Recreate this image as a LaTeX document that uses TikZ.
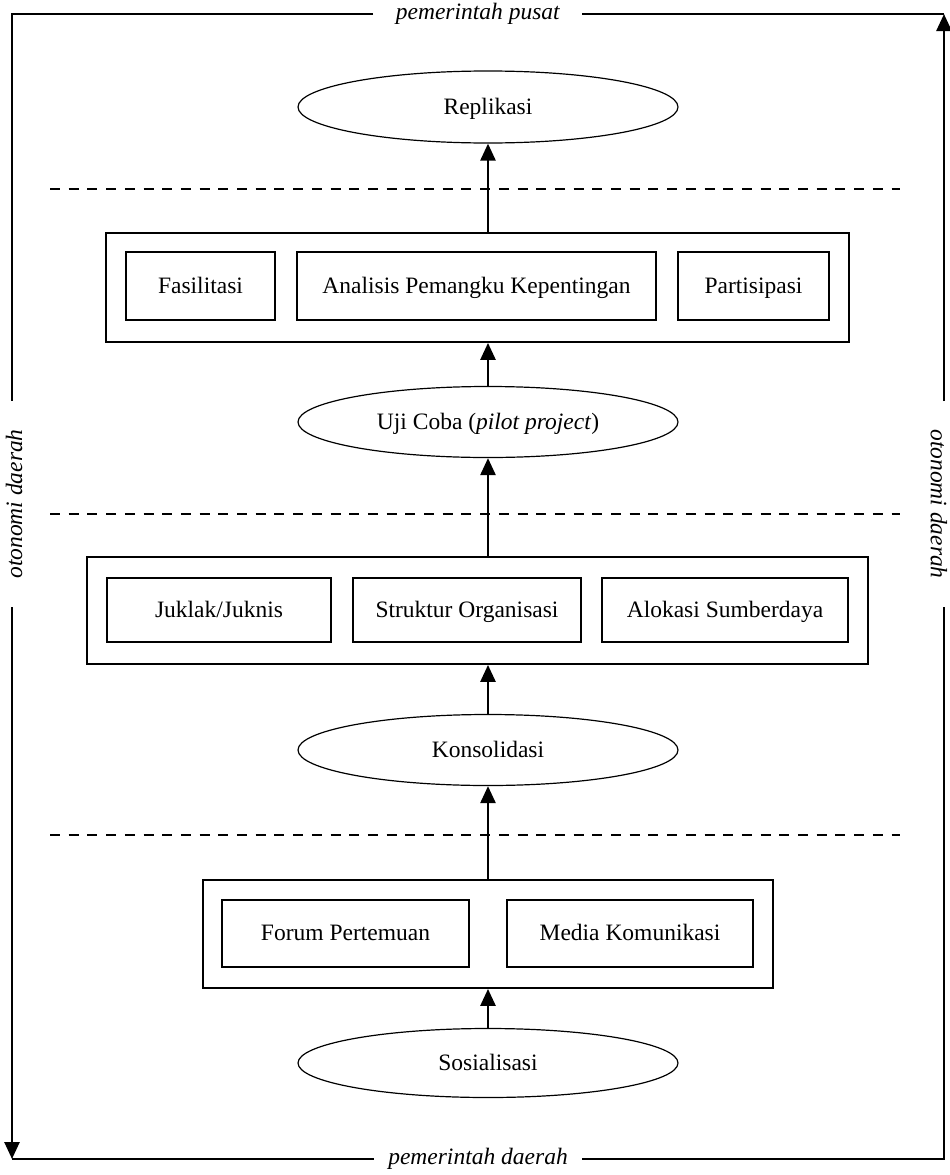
\documentclass[tikz,border=0pt]{standalone}
\usepackage{fontspec}
\setmainfont{Liberation Serif}
\usetikzlibrary{shapes.geometric,arrows.meta}
\begin{document}
\begin{tikzpicture}[x=1pt,y=-1pt,
  every node/.style={font=\fontsize{23.5}{28}\selectfont},
  txt/.style={text height=16pt,text depth=2pt},
  ell/.style={txt,draw,line width=1.2pt,ellipse,minimum width=380pt,inner sep=0pt},
  inbox/.style={txt,draw,line width=1.6pt,rectangle,inner sep=0pt},
  outbox/.style={draw,line width=1.8pt,rectangle,inner sep=0pt},
  arr/.style={line width=2.6pt,-{Triangle[width=15pt,length=17pt]}},
  sep/.style={line width=2.8pt,dash pattern=on 10pt off 8.7pt},
  frame/.style={line width=2.6pt},
  framearr/.style={line width=2.6pt,-{Triangle[width=15pt,length=17pt]}}]
\useasboundingbox (0,0) rectangle (950,1175);

% ellipses
\node[ell,minimum height=72pt] (rep) at (488,107) {Replikasi};
\node[ell,minimum height=71pt] (uji) at (488,422) {Uji Coba (\textit{pilot project})};
\node[ell,minimum height=71pt] (kon) at (488,750) {Konsolidasi};
\node[ell,minimum height=69pt] (sos) at (488,1063) {Sosialisasi};

% box 1
\node[outbox,minimum width=743pt,minimum height=109pt] (b1) at (477.5,287.5) {};
\node[inbox,minimum width=149pt,minimum height=68pt] (fas) at (200.5,286) {Fasilitasi};
\node[inbox,minimum width=359pt,minimum height=68pt] (ana) at (476.5,286) {Analisis Pemangku Kepentingan};
\node[inbox,minimum width=151pt,minimum height=68pt] (par) at (753.5,286) {Partisipasi};

% box 2
\node[outbox,minimum width=781pt,minimum height=107pt] (b2) at (477.5,610.5) {};
\node[inbox,minimum width=224pt,minimum height=64pt] (juk) at (219,610) {Juklak/Juknis};
\node[inbox,minimum width=228pt,minimum height=64pt] (str) at (467,610) {Struktur Organisasi};
\node[inbox,minimum width=246pt,minimum height=64pt] (alo) at (725,610) {Alokasi Sumberdaya};

% box 3
\node[outbox,minimum width=570pt,minimum height=108pt] (b3) at (488,934) {};
\node[inbox,minimum width=247pt,minimum height=67pt] (for) at (345.5,933.5) {Forum Pertemuan};
\node[inbox,minimum width=246pt,minimum height=67pt] (med) at (630,933.5) {Media Komunikasi};

% dashed separators
\coordinate (d1l) at (50,189); \coordinate (d1r) at (900,189);
\coordinate (d2l) at (50,514); \coordinate (d2r) at (900,514);
\coordinate (d3l) at (50,835); \coordinate (d3r) at (900,835);
\draw[sep] (d1l) -- (d1r);
\draw[sep] (d2l) -- (d2r);
\draw[sep] (d3l) -- (d3r);

% arrows
\draw[arr] (sos.north) -- (sos.north |- b3.south);
\draw[arr] (kon.south |- b3.north) -- (kon.south);
\draw[arr] (kon.north) -- (kon.north |- b2.south);
\draw[arr] (uji.south |- b2.north) -- (uji.south);
\draw[arr] (uji.north) -- (uji.north |- b1.south);
\draw[arr] (rep.south |- b1.north) -- (rep.south);

% frame
\coordinate (TL) at (12,14);
\coordinate (TR) at (944,14);
\coordinate (BL) at (12,1159);
\coordinate (BR) at (944,1159);
\node[inner sep=0pt] (ptop) at (478,14) {\textit{pemerintah pusat}};
\node[inner sep=0pt] (pbot) at (478,1159) {\textit{pemerintah daerah}};
\node[inner sep=0pt,rotate=90] (otl) at (14,504) {\textit{otonomi daerah}};
\node[inner sep=0pt,rotate=-90] (otr) at (939,504) {\textit{otonomi daerah}};

\draw[frame] (TR) -- (582,14);
\draw[frame] (373,14) -- (TL) -- (12,401);
\draw[framearr] (12,607) -- (BL);
\draw[frame] (BL) -- (374,1159);
\draw[frame] (582,1159) -- (BR) -- (944,607);
\draw[framearr] (944,401) -- (TR);
\end{tikzpicture}
\end{document}
